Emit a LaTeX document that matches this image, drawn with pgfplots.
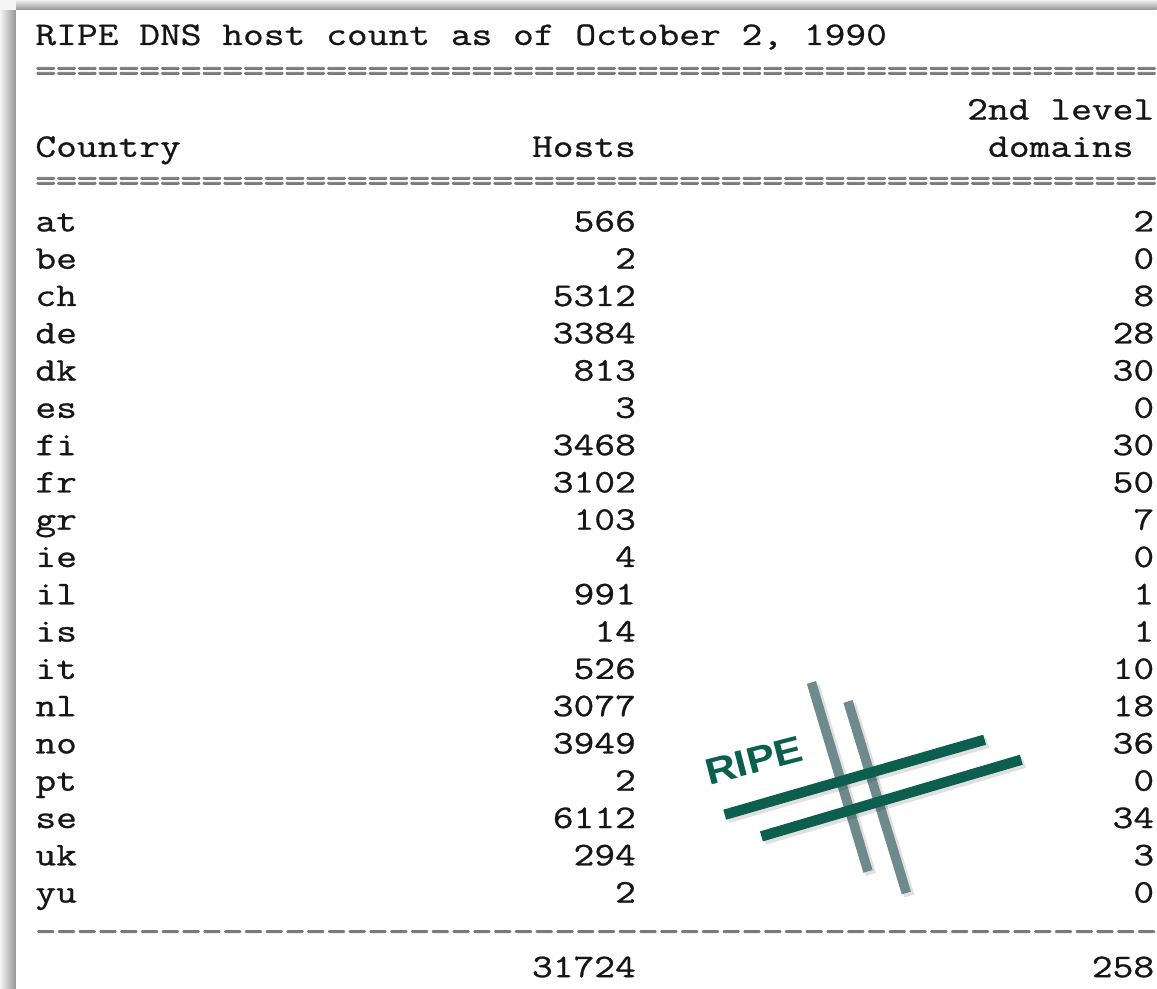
\documentclass[border=0pt]{standalone}
\usepackage{pgfplots}
\pgfplotsset{compat=1.18}
\usepackage{pgfplotstable}
\usepackage{fontspec}
\newfontfamily\tabfont{Latin Modern Mono}[FakeStretch=1.2226, FakeBold=0.8]
\newfontfamily\rulefont{Latin Modern Mono}[FakeStretch=1.2226, FakeBold=2.5]
\newfontfamily\logofont{Liberation Sans}[FakeStretch=1.15]
\definecolor{txt}{HTML}{161616}
\definecolor{rulegray}{HTML}{7A7A7A}
\definecolor{ripegreen}{HTML}{0C5F4F}
\definecolor{ripegray}{HTML}{6E8A8C}
\newcommand\rowfont{\fontsize{16.5pt}{16.5pt}\tabfont}
\tikzset{txtnode/.style={inner sep=0pt, font=\rowfont, text=txt},
         rulenode/.style={inner sep=0pt, font=\fontsize{16.5pt}{16.5pt}\rulefont, text=rulegray}}

\pgfplotstableread{
i cc hosts dom
0 at 566 2
1 be 2 0
2 ch 5312 8
3 de 3384 28
4 dk 813 30
5 es 3 0
6 fi 3468 30
7 fr 3102 50
8 gr 103 7
9 ie 4 0
10 il 991 1
11 is 14 1
12 it 526 10
13 nl 3077 18
14 no 3949 36
15 pt 2 0
16 se 6112 34
17 uk 294 3
18 yu 2 0
}\ripetable

\begin{document}
\begin{tikzpicture}
\begin{axis}[
  at={(0,0)}, anchor=south west,
  scale only axis, width=578.5pt, height=494.5pt,
  xmin=0, xmax=1157, ymin=0, ymax=989, y dir=reverse,
  hide axis, clip=false,
]
% page background and shadow
\fill[white] (axis cs:0,0) rectangle (axis cs:1157,989);
\shade[top color=black!6, bottom color=black!42] (axis cs:0,0) rectangle (axis cs:1157,10);
\shade[left color=black!4, right color=black!42] (axis cs:0,10) rectangle (axis cs:16,989);
\fill[black!4] (axis cs:0,0) rectangle (axis cs:16,10);
\fill[white] (axis cs:16,10) rectangle (axis cs:1157,989);

% header
\node[txtnode, anchor=base west] at (axis cs:35,45) {RIPE DNS host count as of October 2, 1990};
\node[rulenode, anchor=base west] at (axis cs:35,81) {======================================================};
\node[txtnode, anchor=base east] at (axis cs:1155,119.6) {2nd level};
\node[txtnode, anchor=base west] at (axis cs:35,156.9) {Country};
\node[txtnode, anchor=base east] at (axis cs:636.5,156.9) {Hosts};
\node[txtnode, anchor=base east] at (axis cs:1134.3,156.9) {domains};
\node[rulenode, anchor=base west] at (axis cs:35,191) {======================================================};

% logo (shadows, then bars)
\addplot[black, opacity=0.12, line width=5.2pt, line cap=butt] coordinates {(814.7,685.7) (871.3,874.7)};
\addplot[black, opacity=0.12, line width=5.2pt, line cap=butt] coordinates {(851.3,704.7) (909.7,896.3)};
\addplot[ripegray, line width=4.8pt, line cap=butt] coordinates {(811.7,682.7) (868.3,871.7)};
\addplot[ripegray, line width=4.8pt, line cap=butt] coordinates {(848.3,701.7) (906.7,893.3)};
\addplot[black, opacity=0.12, line width=5.4pt, line cap=butt] coordinates {(728,818) (988,743)};
\addplot[black, opacity=0.12, line width=5.4pt, line cap=butt] coordinates {(764.7,839.7) (1024.7,763)};
\addplot[ripegreen, line width=5.2pt, line cap=butt] coordinates {(725,815) (985,740)};
\addplot[ripegreen, line width=5.2pt, line cap=butt] coordinates {(761.7,836.7) (1021.7,760)};
\node[rotate=14.5, anchor=base west, inner sep=0pt, text=ripegreen,
  font=\fontsize{18.5pt}{18.5pt}\logofont\bfseries] at (axis cs:709,786) {RIPE};

% table rows
\addplot[draw=none, mark=none, nodes near coords, point meta=explicit symbolic,
  nodes near coords style={anchor=base west, inner sep=0pt, font=\rowfont, text=txt}]
  table[x expr=35, y expr=231.5+37.3*\thisrow{i}, meta=cc] {\ripetable};
\addplot[draw=none, mark=none, nodes near coords, point meta=explicit symbolic,
  nodes near coords style={anchor=base east, inner sep=0pt, font=\rowfont, text=txt}]
  table[x expr=636.5, y expr=231.5+37.3*\thisrow{i}, meta=hosts] {\ripetable};
\addplot[draw=none, mark=none, nodes near coords, point meta=explicit symbolic,
  nodes near coords style={anchor=base east, inner sep=0pt, font=\rowfont, text=txt}]
  table[x expr=1155, y expr=231.5+37.3*\thisrow{i}, meta=dom] {\ripetable};

% footer
\node[rulenode, anchor=base west] at (axis cs:35,942) {------------------------------------------------------};
\node[txtnode, anchor=base east] at (axis cs:636.5,977.5) {31724};
\node[txtnode, anchor=base east] at (axis cs:1155,977.5) {258};
\end{axis}
\end{tikzpicture}
\end{document}
